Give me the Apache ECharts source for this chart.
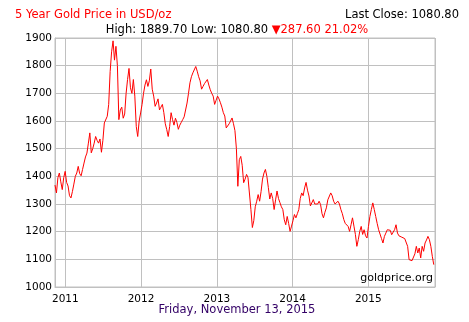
<!DOCTYPE html>
<html>
<head>
<meta charset="utf-8">
<script src="https://cdn.jsdelivr.net/npm/echarts@6/dist/echarts.min.js"></script>
<style>
  html, body { margin: 0; padding: 0; background: #fff; }
  #chart { width: 469px; height: 322px; }
</style>
</head>
<body>
<div id="chart"></div>
<script>
// Weekly closing gold prices (USD/oz), one value per Friday starting 2010-11-12.
const firstFriday = '2010-11-12';
const close2010 = [1368.4, 1340, 1395, 1412, 1380, 1352, 1395, 1418];
const close2011 = [1378, 1365, 1330, 1322, 1345, 1372, 1400, 1412, 1436, 1410, 1402, 1425, 1448,
  1470, 1484, 1520, 1557, 1485, 1500, 1520, 1544, 1530, 1520, 1535, 1487, 1530, 1593, 1600,
  1617, 1660, 1779, 1850, 1889.7, 1820, 1870, 1800, 1605, 1640, 1650, 1610, 1625, 1700, 1750,
  1790, 1720, 1700, 1750, 1690, 1580, 1544, 1600, 1629];
const close2012 = [1660, 1700, 1730, 1749, 1725, 1745, 1788, 1715, 1690, 1653, 1665, 1680, 1640,
  1650, 1660, 1630, 1590, 1569, 1544, 1580, 1630, 1605, 1585, 1610, 1595, 1570, 1585, 1595,
  1605, 1615, 1620, 1665, 1700, 1738, 1760, 1774, 1775, 1797, 1780, 1760, 1745, 1715, 1725,
  1735, 1735, 1750, 1730, 1713, 1700, 1690, 1660, 1675];
const close2013 = [1690, 1680, 1666, 1650, 1630, 1618, 1575, 1580, 1590, 1600, 1611, 1590, 1565,
  1500, 1364, 1460, 1472, 1440, 1377, 1390, 1407, 1395, 1390, 1280, 1215, 1240, 1290, 1310,
  1334, 1310, 1345, 1390, 1412, 1425, 1400, 1360, 1318, 1340, 1320, 1280, 1315, 1347, 1320,
  1305, 1290, 1280, 1243, 1225, 1255, 1230, 1201, 1220];
const close2014 = [1240, 1262, 1250, 1265, 1280, 1320, 1340, 1330, 1358, 1378, 1350, 1329, 1293,
  1300, 1316, 1300, 1293, 1300, 1310, 1298, 1265, 1250, 1270, 1286, 1315, 1322, 1340, 1330,
  1310, 1300, 1293, 1310, 1300, 1280, 1265, 1244, 1230, 1225, 1219, 1201, 1225, 1250, 1220,
  1190, 1147, 1171, 1201, 1219, 1190, 1207, 1185, 1177];
const close2015 = [1219, 1255, 1280, 1304, 1280, 1255, 1230, 1207, 1201, 1175, 1159, 1183, 1195,
  1207, 1201, 1205, 1189, 1195, 1207, 1225, 1195, 1185, 1183, 1180, 1177, 1175, 1171, 1147,
  1099, 1093, 1095, 1099, 1120, 1147, 1123, 1141, 1105, 1147, 1129, 1159, 1170, 1183, 1171,
  1147, 1111, 1080.8];

const yTicks = [1000, 1100, 1200, 1300, 1400, 1500, 1600, 1700, 1800, 1900];
const axisStart = '2010-11-12';
const axisEnd = '2015-11-19';
const dateLine = 'Friday, November 13, 2015';

const closes = [].concat(close2010, close2011, close2012, close2013, close2014, close2015);
const DAY = 86400000;
const t0 = Date.parse(firstFriday + 'T00:00:00Z');
const seriesData = closes.map((v, i) => [t0 + i * 7 * DAY, v]);

const high = Math.max(...closes);
const low = Math.min(...closes);
const last = closes[closes.length - 1];
const change = closes[0] - last;
const pct = change / closes[0] * 100;

const FONT = '"DejaVu Sans", Verdana, sans-serif';
const GRID = '#c0c0c0';
const HEAD = '11.5px ' + FONT;

const chart = echarts.init(document.getElementById('chart'), null, { renderer: 'canvas' });
chart.setOption({
  animation: false,
  backgroundColor: '#ffffff',
  grid: { left: 55, right: 34, top: 38, bottom: 35, containLabel: false,
          show: true, borderColor: GRID, borderWidth: 1 },
  xAxis: {
    type: 'time',
    min: Date.parse(axisStart + 'T00:00:00Z'),
    max: Date.parse(axisEnd + 'T00:00:00Z'),
    minInterval: 365 * DAY,
    axisLine: { show: true, lineStyle: { color: GRID } },
    axisTick: { show: false },
    splitLine: { show: true, lineStyle: { color: GRID, width: 1 } },
    axisLabel: { formatter: '{yyyy}', color: '#000', fontFamily: FONT, fontSize: 10.5,
                 fontWeight: 'normal', margin: 7, showMinLabel: false, showMaxLabel: false }
  },
  yAxis: {
    type: 'value',
    min: yTicks[0],
    max: yTicks[yTicks.length - 1],
    interval: 100,
    axisLine: { show: true, lineStyle: { color: GRID } },
    axisTick: { show: false },
    splitLine: { show: true, lineStyle: { color: GRID, width: 1 } },
    axisLabel: { color: '#000', fontFamily: FONT, fontSize: 10.5, margin: 3,
                 formatter: (v) => String(v) }
  },
  series: [{
    type: 'line',
    data: seriesData,
    showSymbol: false,
    symbol: 'none',
    lineStyle: { color: '#ff0000', width: 1 },
    z: 5
  }],
  graphic: [
    { type: 'text', left: 15, top: 9,
      style: { text: '5 Year Gold Price in USD/oz', fill: '#ff0000', font: HEAD } },
    { type: 'text', right: 10, top: 9,
      style: { text: 'Last Close: ' + last.toFixed(2), fill: '#000', font: HEAD } },
    { type: 'text', x: 237, y: 24,
      style: {
        text: '{k|High: ' + high.toFixed(2) + ' Low: ' + low.toFixed(2) + ' }{r|\u25BC' +
              change.toFixed(2) + ' ' + pct.toFixed(2) + '%}',
        align: 'center', verticalAlign: 'top',
        rich: {
          k: { fill: '#000', font: HEAD },
          r: { fill: '#ff0000', font: HEAD }
        }
      } },
    { type: 'text', x: 433, y: 273,
      style: { text: 'goldprice.org', fill: '#000', font: '11px ' + FONT, align: 'right', verticalAlign: 'top' },
      z: 10 },
    { type: 'text', x: 237, y: 304,
      style: { text: dateLine, fill: '#330066', font: HEAD, align: 'center', verticalAlign: 'top' } }
  ]
});
</script>
</body>
</html>
